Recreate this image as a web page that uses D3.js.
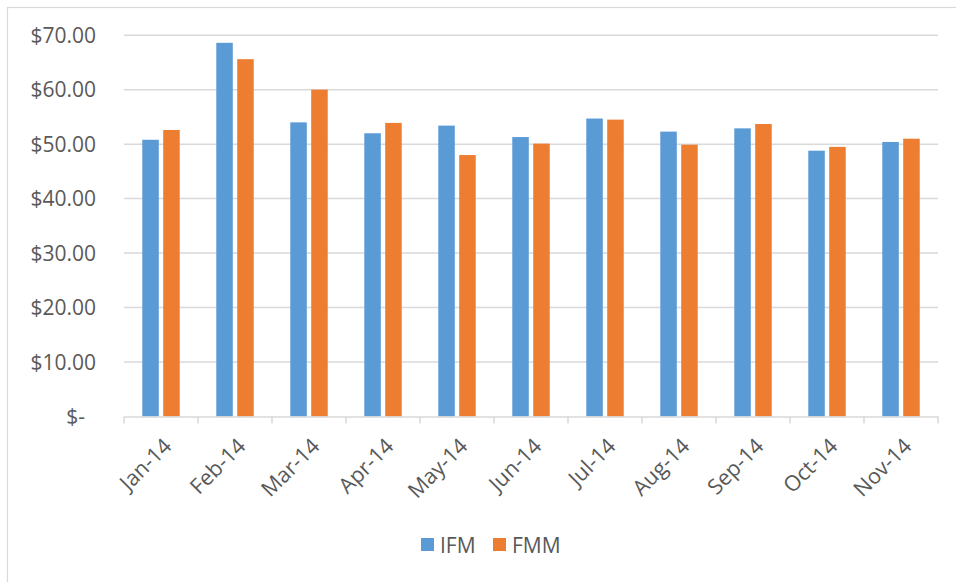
<!DOCTYPE html>
<html><head><meta charset="utf-8">
<script src="https://cdn.jsdelivr.net/npm/d3@7"></script>
<style>body{margin:0;background:#fff}svg{display:block}text{font-family:"Open Sans",sans-serif;fill:#595959}</style>
</head><body><svg id="c" width="956" height="582"></svg>
<script>
const months = ["Jan-14","Feb-14","Mar-14","Apr-14","May-14","Jun-14","Jul-14","Aug-14","Sep-14","Oct-14","Nov-14"];
const seriesNames = ["IFM","FMM"];
const ifm = [50.8,68.6,54.0,52.0,53.4,51.3,54.7,52.3,52.9,48.8,50.4];
const fmm = [52.6,65.6,60.0,53.9,48.0,50.1,54.5,49.9,53.7,49.5,51.0];
const yTicks = [0,10,20,30,40,50,60,70];
const colors = ["#5B9BD5","#ED7D31"];

const svg = d3.select("#c");
svg.append("rect").attr("x",7.5).attr("y",7.5).attr("width",960).attr("height",600)
  .attr("fill","none").attr("stroke","#d9d9d9").attr("stroke-width",1.2);

const L=124,R=938,T=35.2,B=416.5;
const y = d3.scaleLinear().domain([0,70]).range([B,T]);
const x = d3.scaleBand().domain(months).range([L,R]);
const bw = x.bandwidth();
const x1 = d3.scaleBand().domain(seriesNames).range([bw*0.247,bw*0.753]).paddingInner(0.21);

svg.append("g").selectAll("line").data(yTicks.filter(d=>d>0)).join("line")
  .attr("x1",L).attr("x2",R).attr("y1",d=>y(d)).attr("y2",d=>y(d))
  .attr("stroke","#d9d9d9").attr("stroke-width",1.5);

const fmt = d => d===0 ? "$-" : "$"+d3.format(".2f")(d);
svg.append("g").selectAll("text").data(yTicks).join("text")
  .attr("x",d=>d===0?85:96).attr("y",d=>y(d)).attr("dy","0.36em")
  .attr("text-anchor","end").attr("font-size",21).text(fmt);

const data = months.map((m,i)=>({m, vals:[ifm[i],fmm[i]]}));
const g = svg.append("g");
data.forEach(d=>{
  seriesNames.forEach((s,j)=>{
    g.append("rect").attr("x",x(d.m)+x1(s)).attr("width",x1.bandwidth())
      .attr("y",y(d.vals[j])).attr("height",y(0)-y(d.vals[j]))
      .attr("fill",colors[j]);
  });
});

const ax = svg.append("g").attr("transform",`translate(0,${B})`)
  .call(d3.axisBottom(x).tickSize(0).tickFormat(""));
ax.select(".domain").attr("stroke","#d9d9d9").attr("stroke-width",1.5);
const tickPos = months.map(m=>x(m)).concat([R]);
svg.append("g").selectAll("line").data(tickPos).join("line")
  .attr("x1",d=>d).attr("x2",d=>d).attr("y1",B).attr("y2",B+7)
  .attr("stroke","#d9d9d9").attr("stroke-width",1.5);
svg.append("g").selectAll("text").data(months).join("text")
  .attr("transform",d=>`translate(${x(d)+bw/2+1},${B+20}) rotate(-45)`)
  .attr("text-anchor","end").attr("dy","0.72em").attr("font-size",21.5).text(d=>d);

const leg = svg.append("g");
const lx = [421,493];
seriesNames.forEach((s,j)=>{
  leg.append("rect").attr("x",lx[j]).attr("y",538).attr("width",13).attr("height",13).attr("fill",colors[j]);
  leg.append("text").attr("x",lx[j]+19).attr("y",552.5).attr("font-size",21).text(s);
});
</script></body></html>
